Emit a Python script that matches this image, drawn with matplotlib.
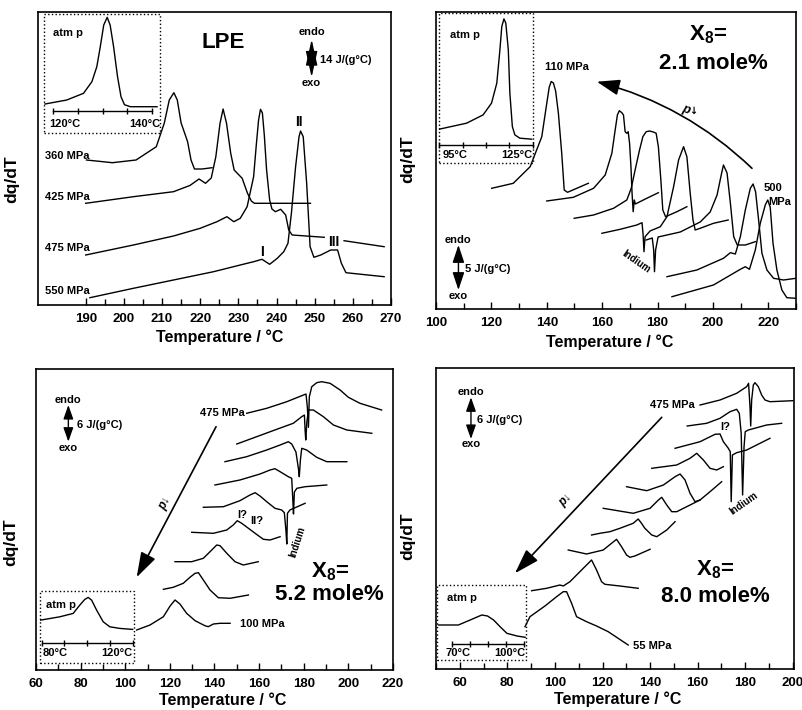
import numpy as np
import matplotlib
matplotlib.use('Agg')
import matplotlib.pyplot as plt
from matplotlib.patches import Rectangle

plt.rcParams['font.family'] = ['Liberation Sans', 'DejaVu Sans']
plt.rcParams['font.weight'] = 'bold'
plt.rcParams['mathtext.fontset'] = 'custom'
plt.rcParams['mathtext.rm'] = 'Liberation Sans:bold'
plt.rcParams['mathtext.default'] = 'rm'

# ---------------- LPE panel (T in degC, dq/dT arbitrary units)
lpe_atm_T = [118.3, 122.7, 126.1, 127.8, 128.8, 129.5, 130.2, 130.9, 131.5, 132.2, 133.0, 133.7, 134.4, 135.6, 141.0]
lpe_atm_y = [29, 33, 39.7, 51.3, 66.3, 86.3, 108, 115.7, 108, 86.3, 56.3, 36.3, 28.3, 26.3, 26.3]
lpe_360_T = [190.2, 197.0, 203.2, 208.5, 210.6, 211.9, 213.1, 214.0, 215.0, 216.1, 216.7, 217.6, 218.5, 220.5, 223.1]
lpe_360_y = [145, 142.3, 145, 158.3, 182, 205, 212.3, 205, 182, 170, 163.3, 145, 136, 136, 137.3]
lpe_425_T = [190.0, 202.5, 213.0, 217.3, 219.7, 221.4, 222.9, 224.1, 225.2, 226.0, 226.9, 228.0, 228.9, 231.0, 232.4, 233.4, 234.2, 248.9]
lpe_425_y = [101.7, 108.3, 113.3, 119.5, 126, 121.7, 127, 148.3, 181.7, 196, 181.7, 151.7, 135, 126.7, 111.7, 104, 101.7, 101.7]
lpe_475_T = [190, 202.5, 213.0, 220.0, 224.4, 227.0, 228.8, 230.5, 232.3, 234.0, 234.7, 235.3, 235.8, 236.3, 236.8, 237.4, 238.2, 238.8, 239.7, 241.1, 242.4, 243.2, 244.1, 252.5]
lpe_475_y = [50, 60, 69, 76.7, 83.3, 88.3, 83.3, 86.7, 98.3, 128.3, 160, 185, 195.7, 192, 170, 135, 105, 96, 93.3, 95.7, 90, 75, 70, 67.7]
lpe_475_tail_T = [257.7, 268.2]
lpe_475_tail_y = [64.3, 58.3]
lpe_550_T = [191.1, 202.5, 213.0, 223.5, 230.5, 234.0, 236.2, 238.2, 240.2, 241.9, 243.0, 243.9, 245.0, 245.9, 246.3, 247.0, 247.9, 248.8, 249.8, 251.6, 254.2, 256.0, 257.0, 258.2, 268.2]
lpe_550_y = [7.3, 16.7, 25, 33.3, 40, 43.3, 45.7, 40.7, 46.7, 53.3, 61.7, 91.7, 138.3, 168.3, 174, 168.3, 121.7, 58.3, 47.7, 50, 55, 55, 41.7, 32.3, 28.3]

# ---------------- X8 = 2.1 mole%
b_atm_T = [95.0, 103.8, 109.1, 111.8, 113.5, 114.5, 115.1, 115.8, 116.4, 117.2, 117.7, 118.5, 119.3, 120.9, 124.7]
b_atm_y = [34, 40, 48.3, 60, 80, 113.3, 136.6, 144.3, 140, 113.3, 70, 36.6, 28.3, 25, 24]
b110_T = [120.1, 127.9, 134.0, 138.2, 140.0, 140.9, 141.6, 142.4, 143.2, 144.2, 145.4, 146.3, 147.5, 155.0]
b110_y = [120.7, 125.7, 142.3, 172.3, 205.7, 222, 227.5, 226, 218, 195.7, 155.7, 119, 116.7, 125.7]
b2_T = [140.0, 149.6, 156.9, 161.1, 163.5, 164.7, 165.5, 166.2, 167.1, 167.7, 168.3, 168.9, 169.4, 169.9, 170.4, 170.8, 171.2, 171.6, 172.0, 176.1, 180.3]
b2_y = [108, 111.7, 120.7, 134, 155.7, 179, 194, 198.3, 196.3, 194, 177.3, 175.7, 177.3, 165.7, 142.3, 115.7, 97.3, 109, 105, 110.7, 116.3]
b3_T = [149.9, 156.9, 164.1, 168.9, 170.5, 171.9, 173.5, 174.7, 175.9, 177.1, 178.5, 179.5, 180.3, 181.2, 181.9, 182.9, 187.0, 190.6]
b3_y = [90.7, 94, 100.7, 109, 120.7, 139, 159, 172.3, 177.3, 178, 177, 175.7, 162.3, 129, 99, 92.3, 97.3, 102.3]
b4_T = [159.9, 166.5, 172.5, 174.4, 174.8, 175.1, 175.5, 177.3, 181.0, 183.4, 185.8, 187.6, 189.4, 190.6, 191.8, 192.8, 193.6, 195.4, 200.2, 205.5]
b4_y = [75.7, 79.7, 84, 86.3, 74, 57.3, 72.3, 78, 82.3, 92.3, 122.3, 149, 162.3, 152.3, 115.7, 89, 79, 80.7, 85.7, 89]
b5_T = [175.9, 178.1, 178.6, 178.9, 179.3, 180.2, 188.2, 195.4, 199.0, 201.5, 203.0, 203.8, 205.1, 206.3, 207.5, 208.8, 211.7, 215.3]
b5_y = [69, 71, 59, 37.3, 59, 72, 77, 87, 97, 114, 134, 144, 136, 106, 72.3, 64, 64, 67.3]
b6_T = [183.4, 194.2, 203.8, 206.3, 208.1, 209.9, 211.7, 213.5, 214.5, 215.4, 216.5, 217.7, 219.5, 221.9, 225.5, 230.0]
b6_y = [32.3, 39, 50.7, 56.3, 55, 72.3, 99, 120.7, 125, 117.3, 89, 55.7, 39, 30.7, 29, 30.7]
b500_T = [185.2, 200.2, 209.9, 211.7, 213.2, 215.3, 217.1, 218.9, 219.8, 220.7, 221.7, 223.1, 224.9, 226.7, 230.0]
b500_y = [12.3, 24, 39.7, 42.3, 39.7, 59, 85.7, 104, 109, 101.7, 65.7, 39, 19, 11.3, 10.7]

# ---------------- X8 = 5.2 mole%
c_atm_T = [79.6, 88.0, 93.9, 96.8, 99.0, 100.5, 102.0, 104.2, 107.1, 110.0, 114.4, 120.0]
c_atm_y = [42.7, 46, 49.4, 57.7, 63.4, 65.4, 62.7, 52.7, 41, 36, 34.4, 33.4]
c100_T = [105.1, 111.1, 117.1, 120.1, 122.3, 124.5, 127.5, 131.3, 135.7, 137.2, 139.5, 142.5, 147.0]
c100_y = [40, 45, 53.3, 64, 70, 66, 56.7, 49.3, 44.3, 43.3, 46, 46.7, 46.7]
c2_T = [117.1, 121.5, 126.0, 129.0, 131.3, 132.8, 135.0, 138.0, 141.7, 147.0, 155.2]
c2_y = [80.7, 82.7, 86.7, 92.7, 96.7, 97.3, 90, 80, 72.3, 71.7, 75]
c3_T = [122.3, 129.8, 135.0, 138.0, 141.0, 142.5, 145.5, 149.2, 152.9, 159.6]
c3_y = [108.3, 108.3, 111.7, 118.3, 125, 124.3, 116.7, 108.3, 105, 108.3]
c4_T = [129.8, 139.5, 145.5, 148.4, 150.2, 152.2, 155.2, 158.2, 161.9, 164.9, 169.4]
c4_y = [137.7, 136.7, 140, 145, 149.3, 146.7, 141.7, 136.7, 130.7, 130, 133.3]
c5_T = [135.0, 144.0, 151.4, 155.9, 158.2, 160.4, 163.4, 167.1, 170.1, 171.3, 172.0, 172.4, 172.7, 173.8, 180.6]
c5_y = [162.7, 163.3, 169.3, 175, 177.3, 174, 168.3, 161.7, 160, 157.3, 140, 126, 156.7, 160, 166.7]
c6_T = [140.2, 151.4, 160.4, 164.9, 167.1, 169.4, 173.1, 174.6, 175.1, 175.4, 175.8, 176.9, 180.6, 190.3]
c6_y = [185, 190, 196, 200, 201.3, 198.3, 193.3, 191.7, 170, 156, 178, 181.7, 183.3, 185]
c7_T = [144.7, 154.4, 163.4, 169.4, 173.1, 174.6, 176.5, 177.7, 178.0, 178.5, 179.1, 181.3, 185.8, 190.3, 199.3]
c7_y = [208.3, 213.3, 220, 225, 228.3, 226, 218, 200, 193.3, 210, 221.7, 220, 212.7, 208.3, 208.3]
c8_T = [150.0, 158.9, 167.9, 175.3, 179.1, 180.3, 180.6, 180.9, 181.4, 182.1, 184.3, 188.8, 193.3, 199.3, 210.5]
c8_y = [226, 233.3, 240.7, 246.7, 253.3, 255, 240, 230, 248, 260, 260, 253.3, 245, 240, 236.7]
c475_T = [154.4, 163.4, 172.4, 181.0, 181.6, 182.1, 182.5, 183.6, 185.8, 188.0, 191.8, 196.3, 200.0, 205.2, 214.9]
c475_y = [256.7, 261.7, 268.3, 276, 263.3, 242.7, 273.3, 283.3, 287.3, 288.3, 286.7, 280, 272.7, 266.7, 260]

# ---------------- X8 = 8.0 mole%
d_atm_T = [64.4, 72.7, 77.6, 82.4, 84.8, 87.3, 90.0, 92.8, 97.0, 100.4]
d_atm_y = [35, 35, 40, 45, 44, 40, 33.3, 26.7, 24, 22.7]
d55_T = [87.4, 89.5, 95.8, 100.7, 103.5, 104.9, 107.0, 109.1, 113.3, 117.5, 122.4, 130.8]
d55_y = [42.3, 52.3, 63, 72.3, 77.3, 77.3, 65.7, 52.3, 47.3, 43, 37.3, 24]
d2_T = [90.2, 96.5, 102.1, 103.5, 106.3, 111.2, 115.4, 117.5, 119.6, 121.0, 127.3, 135.0]
d2_y = [78.3, 80.7, 84, 83, 87.3, 99, 109, 99, 87.3, 84.7, 83, 80.7]
d3_T = [105.6, 113.3, 120.3, 123.8, 125.9, 128.0, 130.1, 131.5, 133.6, 140.0]
d3_y = [119, 115, 119, 125.7, 129.7, 122.3, 114, 111.7, 113, 119.7]
d4_T = [115.4, 118.9, 123.1, 127.3, 132.9, 135.0, 136.4, 137.8, 140.7, 142.8, 147.0, 150.5]
d4_y = [134, 135.7, 137.3, 140.7, 145.7, 150, 145.7, 140.7, 134, 132.3, 139, 147.3]
d5_T = [120.3, 132.9, 140.0, 143.5, 144.9, 147.0, 149.1, 151.2, 161.0]
d5_y = [160.7, 155.7, 160.7, 169, 171.7, 164, 157.3, 157.3, 169]
d6_T = [130.1, 138.6, 145.6, 150.5, 152.6, 154.7, 156.8, 158.9, 161.0, 165.2, 170.1]
d6_y = [182.3, 178.3, 184, 192.3, 195, 189, 175.7, 167.3, 169, 177.3, 187.3]
d7_T = [140.7, 151.2, 156.8, 159.6, 162.4, 165.2, 168.0, 170.8]
d7_y = [200.7, 204, 210.7, 215.7, 209, 200.7, 199, 202.3]
d8_T = [150.5, 161.0, 167.3, 169.4, 170.8, 172.9, 173.7, 174.1, 174.6, 176.4, 180.6, 190.4]
d8_y = [220.7, 227.3, 234.7, 235, 227.3, 220.7, 217.3, 167.3, 214, 216.3, 219, 230.7]
d9_T = [155.6, 163.8, 169.4, 173.6, 176.4, 177.5, 178.3, 178.9, 179.5, 180.0, 181.3, 189.0, 195.3]
d9_y = [243, 245.7, 250.7, 257.3, 259.7, 255.7, 235.7, 174, 222.3, 237.3, 239, 244, 245.7]
d475_T = [161.0, 169.4, 176.4, 180.6, 181.4, 182.0, 182.3, 182.7, 183.4, 184.1, 185.5, 186.9, 188.3, 190.4, 200.0]
d475_y = [264, 269, 275.7, 282.3, 285.7, 262.3, 243, 269, 284, 286.3, 282.3, 274, 269, 267.3, 268.3]

lw = 1.0
fig = plt.figure(figsize=(8.03, 7.10), dpi=100)


def make_axes(l, t, r, b, xlim, ylim, major, minor):
    ax = fig.add_axes([l / 803, 1 - b / 710, (r - l) / 803, (b - t) / 710])
    ax.set_xlim(*xlim)
    ax.set_ylim(*ylim)
    ax.set_yticks([])
    ax.set_xticks(major)
    ax.set_xticks(minor, minor=True)
    ax.tick_params(axis='x', which='both', direction='in', top=False, pad=6, labelsize=9.5)
    ax.tick_params(axis='x', which='major', length=5, width=1)
    ax.tick_params(axis='x', which='minor', length=4, width=1)
    for s in ax.spines.values():
        s.set_linewidth(1.2)
    ax.set_xlabel('Temperature / °C', fontsize=11.5, fontweight='bold')
    ax.set_ylabel('dq/dT', fontsize=12.5, fontweight='bold')
    return ax


def add_inset(ax, box, xlim, ylim, T, y, axis_y, t0, t1, lab0, lab1, lab_y, atm_xy):
    ax.add_patch(Rectangle((box[0], box[1]), box[2], box[3], transform=ax.transAxes,
                           fill=False, ls=':', lw=1.0, color='black'))
    axin = ax.inset_axes(box)
    axin.set_xlim(*xlim)
    axin.set_ylim(*ylim)
    axin.patch.set_visible(False)
    for s in ['top', 'right', 'left']:
        axin.spines[s].set_visible(False)
    axin.spines['bottom'].set_position(('data', axis_y))
    axin.spines['bottom'].set_bounds(t0, t1)
    axin.spines['bottom'].set_linewidth(1.0)
    axin.set_xticks(np.linspace(t0, t1, 5))
    axin.set_xticklabels([])
    axin.tick_params(axis='x', direction='inout', length=5, width=1)
    axin.set_yticks([])
    axin.plot(T, y, color='black', lw=lw)
    axin.text(lab0[0], lab_y, lab0[1], ha='left', va='center', fontsize=8)
    axin.text(lab1[0], lab_y, lab1[1], ha='right', va='center', fontsize=8)
    axin.text(atm_xy[0], atm_xy[1], 'atm p', ha='left', va='center', fontsize=8)
    return axin


def endo_exo(ax, x, y_top, y_bot, y_endo, y_exo, x_lab, y_lab, lab, hl, hw, ms):
    ax.annotate('', xy=(x, y_top), xytext=(x, y_bot),
                arrowprops=dict(arrowstyle='<|-|>,head_length=%g,head_width=%g' % (hl, hw),
                                mutation_scale=ms, color='black', lw=1.0, shrinkA=0, shrinkB=0))
    ax.text(x, y_endo, 'endo', ha='center', va='center', fontsize=8)
    ax.text(x, y_exo, 'exo', ha='center', va='center', fontsize=8)
    ax.text(x_lab, y_lab, lab, ha='left', va='center', fontsize=8)


# ================= panel A
axA = make_axes(38, 12, 391, 305, (177.5, 270), (0, 293), np.arange(190, 271, 10), np.arange(190, 271, 5))
for T, y in [(lpe_360_T, lpe_360_y), (lpe_425_T, lpe_425_y), (lpe_475_T, lpe_475_y),
             (lpe_475_tail_T, lpe_475_tail_y), (lpe_550_T, lpe_550_y)]:
    axA.plot(T, y, color='black', lw=lw)
for lab, yy in [('360 MPa', 149.3), ('425 MPa', 108), ('475 MPa', 57), ('550 MPa', 14)]:
    axA.text(179.3, yy, lab, ha='left', va='center', fontsize=8)
axA.text(236.1, 53.3, 'I', ha='center', va='center', fontsize=10)
axA.text(245.9, 183.3, 'II', ha='center', va='center', fontsize=10)
axA.text(255.0, 63, 'III', ha='center', va='center', fontsize=10)
axA.text(226.0, 262, 'LPE', ha='center', va='center', fontsize=16)
endo_exo(axA, 249.2, 265.7, 227.7, 272.7, 222, 251.3, 245, '14 J/(g°C)', 1.35, 0.3, 12)
add_inset(axA, [0.017, 0.587, 0.330, 0.406], (118.1, 141.7), (0, 119), lpe_atm_T, lpe_atm_y,
          22.3, 120, 140, (119.1, '120°C'), (141.6, '140°C'), 9, (120, 99.7))
axA.yaxis.set_label_coords(-0.054, 0.43)
axA.xaxis.set_label_coords(0.516, -0.085)

# ================= panel B
axB = make_axes(436, 12, 796, 309, (100, 230), (0, 297), np.arange(100, 231, 20), np.arange(100, 231, 10))
for T, y in [(b110_T, b110_y), (b2_T, b2_y), (b3_T, b3_y), (b4_T, b4_y), (b5_T, b5_y),
             (b6_T, b6_y), (b500_T, b500_y)]:
    axB.plot(T, y, color='black', lw=lw)
axB.text(139.4, 242.3, '110 MPa', ha='left', va='center', fontsize=8)
axB.text(218.2, 121, '500', ha='left', va='center', fontsize=8)
axB.text(220.0, 107.3, 'MPa', ha='left', va='center', fontsize=8)
axB.text(198.3, 274, r'X$_8$=', ha='center', va='center', fontsize=16)
axB.text(200.1, 245.5, '2.1 mole%', ha='center', va='center', fontsize=16)
axB.text(172.3, 47, 'Indium', ha='center', va='center', fontsize=7, rotation=-35)
axB.annotate('', xy=(158.1, 227.3), xytext=(214.1, 140.7),
             arrowprops=dict(arrowstyle='-|>,head_length=1.0,head_width=0.35', mutation_scale=14,
                             color='black', lw=1.2, shrinkA=0, shrinkB=0,
                             connectionstyle='arc3,rad=0.13'))
axB.text(190.4, 199, 'p', ha='center', va='center', fontsize=9, fontstyle='italic', rotation=-20)
axB.text(193.0, 198, '↓', ha='center', va='center', fontsize=7, family=['DejaVu Sans'])
endo_exo(axB, 108.1, 64, 19, 69, 13, 110.5, 40, '5 J/(g°C)', 0.9, 0.3, 12)
add_inset(axB, [0.009, 0.491, 0.261, 0.505], (95.0, 125.2), (0, 150), b_atm_T, b_atm_y,
          18.3, 95, 125, (96.2, '95°C'), (124.9, '125°C'), 8.3, (98.4, 128.3))
axB.yaxis.set_label_coords(-0.058, 0.505)
axB.xaxis.set_label_coords(0.483, -0.085)

# ================= panel C
axC = make_axes(36, 369, 393, 670, (60, 220), (0, 301), np.arange(60, 221, 20), np.arange(60, 221, 10))
for T, y in [(c100_T, c100_y), (c2_T, c2_y), (c3_T, c3_y), (c4_T, c4_y), (c5_T, c5_y),
             (c6_T, c6_y), (c7_T, c7_y), (c8_T, c8_y), (c475_T, c475_y)]:
    axC.plot(T, y, color='black', lw=lw)
axC.text(153.4, 256.7, '475 MPa', ha='right', va='center', fontsize=8)
axC.text(151.4, 45.7, '100 MPa', ha='left', va='center', fontsize=8)
axC.text(150.2, 155, 'I?', ha='left', va='center', fontsize=8)
axC.text(156.0, 149.3, 'II?', ha='left', va='center', fontsize=8)
axC.text(177.4, 128, 'Indium', ha='center', va='center', fontsize=7, rotation=72)
axC.text(191.8, 98.3, r'X$_8$=', ha='center', va='center', fontsize=16)
axC.text(191.3, 75, '5.2 mole%', ha='center', va='center', fontsize=16)
axC.annotate('', xy=(105.1, 92.7), xytext=(140.7, 243.3),
             arrowprops=dict(arrowstyle='-|>,head_length=1.1,head_width=0.35', mutation_scale=14,
                             color='black', lw=1.2, shrinkA=0, shrinkB=0))
axC.text(117.8, 167, 'p↓', ha='center', va='center', fontsize=8.5, fontstyle='italic', rotation=62)
endo_exo(axC, 74.5, 265, 228.3, 270, 221.7, 78.2, 245, '6 J/(g°C)', 0.85, 0.3, 10)
add_inset(axC, [0.011, 0.024, 0.264, 0.239], (79.3, 120.7), (0, 72), c_atm_T, c_atm_y,
          20, 80, 120, (80.7, '80°C'), (120.0, '120°C'), 9.4, (81.9, 57.7))
axC.yaxis.set_label_coords(-0.05, 0.426)
axC.xaxis.set_label_coords(0.524, -0.073)

# ================= panel D
axD = make_axes(436, 368, 794, 669, (50, 200.5), (0, 301), np.arange(60, 201, 20), np.arange(50, 201, 10))
for T, y in [(d55_T, d55_y), (d2_T, d2_y), (d3_T, d3_y), (d4_T, d4_y), (d5_T, d5_y),
             (d6_T, d6_y), (d7_T, d7_y), (d8_T, d8_y), (d9_T, d9_y), (d475_T, d475_y)]:
    axD.plot(T, y, color='black', lw=lw)
axD.text(158.9, 264, '475 MPa', ha='right', va='center', fontsize=8)
axD.text(132.9, 23, '55 MPa', ha='left', va='center', fontsize=8)
axD.text(171.5, 241.7, 'I?', ha='center', va='center', fontsize=8)
axD.text(179.5, 166, 'Indium', ha='center', va='center', fontsize=7, rotation=35)
axD.text(167.3, 99, r'X$_8$=', ha='center', va='center', fontsize=16)
axD.text(167.3, 73, '8.0 mole%', ha='center', va='center', fontsize=16)
axD.annotate('', xy=(83.2, 95.7), xytext=(144.9, 251.7),
             arrowprops=dict(arrowstyle='-|>,head_length=1.1,head_width=0.35', mutation_scale=14,
                             color='black', lw=1.2, shrinkA=0, shrinkB=0))
axD.text(104.6, 169, 'p↓', ha='center', va='center', fontsize=8.5, fontstyle='italic', rotation=45)
endo_exo(axD, 64.7, 271.7, 230, 277.3, 224.7, 67.2, 249, '6 J/(g°C)', 0.85, 0.3, 10)
add_inset(axD, [0.004, 0.030, 0.247, 0.249], (64.0, 100.7), (0, 75), d_atm_T, d_atm_y,
          16, 70, 100, (67.2, '70°C'), (100.3, '100°C'), 6.7, (67.9, 61.7))
axD.yaxis.set_label_coords(-0.059, 0.44)
axD.xaxis.set_label_coords(0.508, -0.073)

fig.savefig('out.png', dpi=100)
